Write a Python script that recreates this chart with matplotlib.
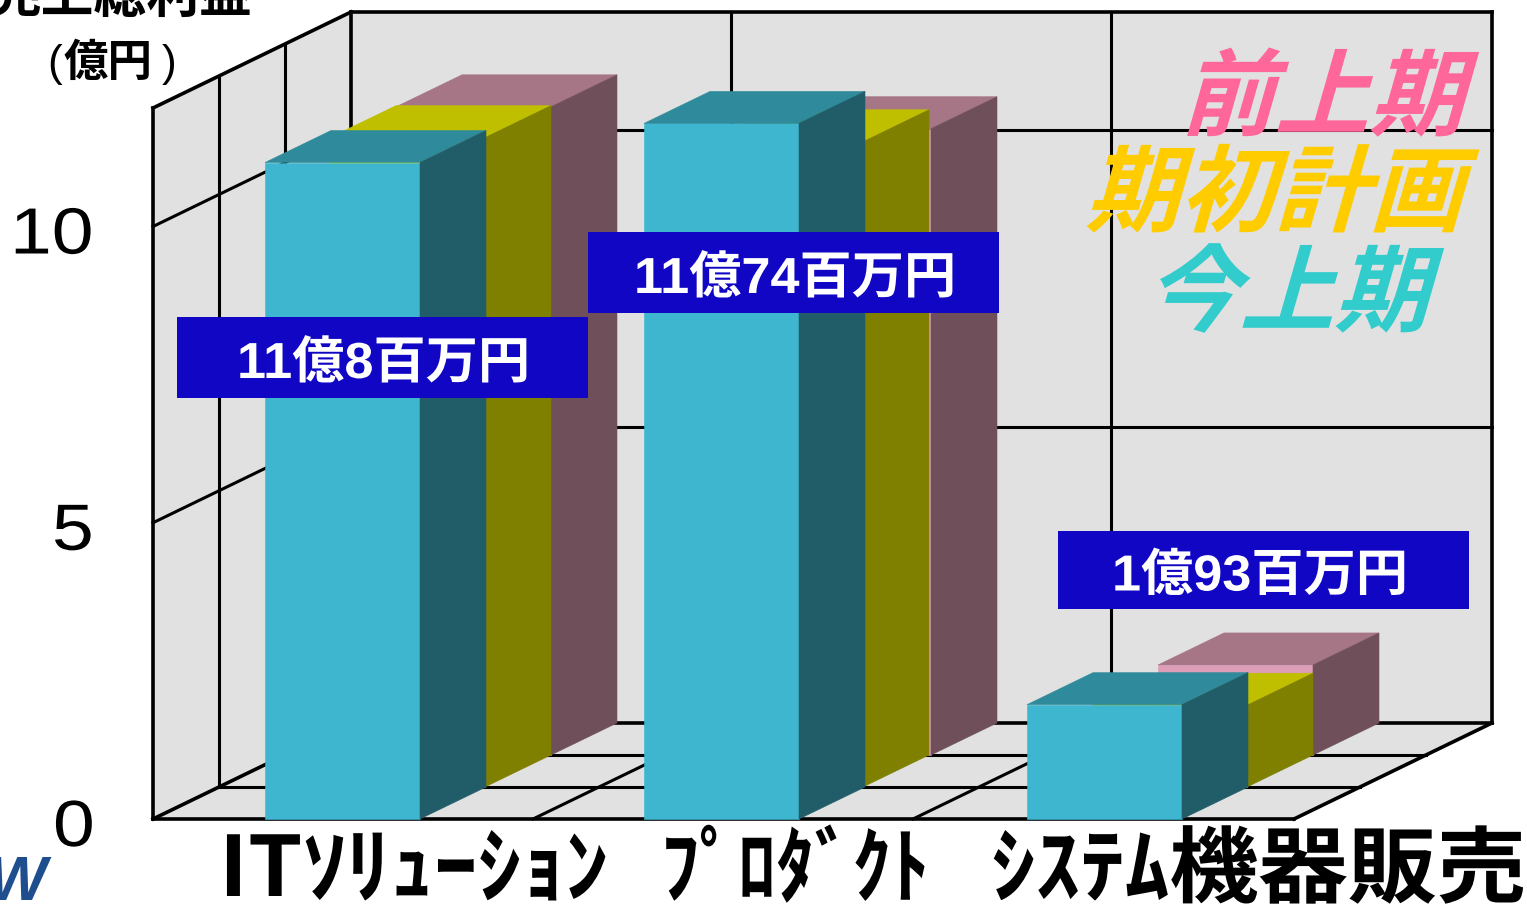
import matplotlib
matplotlib.use("Agg")
import matplotlib.pyplot as plt
from matplotlib.patches import Polygon, Rectangle
from matplotlib.patheffects import AbstractPathEffect
from matplotlib.transforms import Affine2D

# Values in oku yen, one list per period, back to front
categories = ["ITｿﾘｭｰｼｮﾝ", "ﾌﾟﾛﾀﾞｸﾄ", "ｼｽﾃﾑ機器販売"]
prev_half = [10.94, 10.57, 1.52]
plan = [10.96, 10.89, 1.38]
this_half = [11.08, 11.74, 1.93]
value_labels = ["11億8百万円", "11億74百万円", "1億93百万円"]
legend_names = ["前上期", "期初計画", "今上期"]
y_ticks = [0, 5, 10]
y_top = 12

# Layout of the fake 3D box, in pixels
FRONT_LEFT = 153
FLOOR_Y = 819
CAT_WIDTH = 380
PX_PER_UNIT = 59.25
DEPTH_DX = 66
DEPTH_DY = 32
BAR_WIDTH = 155
# front-left x of each bar before the depth shift, per category, back to front
BAR_X = [[264, 264, 265], [644, 642, 644], [1026, 1026, 1027]]
BOX_POS = [(177, 317, 411, 81), (588, 232, 411, 81), (1058, 531, 411, 78)]
BOX_TEXT_X = [237, 634, 1112]
TICK_X = [53, 52, 10]
LABEL_X = [219, 661, 991]
LABEL_SX = [1.05, 0.92, 1.07]

# front, top and side face per series
COLORS_BACK = ("#DD9DB7", "#A67586", "#6F4F5A")
COLORS_MID = ("#FFFF00", "#BFBF00", "#808000")
COLORS_FRONT = ("#3FB6CF", "#2F8B9B", "#215D68")

WALL = "#E1E1E1"
JP = ["Noto Sans CJK JP", "DejaVu Sans"]
LATIN_JP = ["Liberation Sans", "Noto Sans CJK JP"]


class Warp(AbstractPathEffect):
    # scale or slant the glyph outlines, text stays text
    def __init__(self, sx=1.0, sy=1.0, slant=0.0):
        self.matrix = Affine2D().scale(sx, sy).skew_deg(slant, 0)

    def draw_path(self, renderer, gc, tpath, affine, rgbFace=None):
        renderer.draw_path(gc, tpath, self.matrix + affine, rgbFace)


def project(x, value, depth):
    return (x + depth * DEPTH_DX, FLOOR_Y - depth * DEPTH_DY - value * PX_PER_UNIT)


def face(ax, points, color):
    ax.add_patch(Polygon(points, closed=True, facecolor=color, edgecolor=color, linewidth=0.4, zorder=1))


def line(ax, p1, p2, lw=2.2):
    ax.plot([p1[0], p2[0]], [p1[1], p2[1]], color="black", linewidth=lw, solid_capstyle="projecting", zorder=1)


def draw_bar(ax, x, value, depth, colors):
    front, top, side = colors
    x2 = x + BAR_WIDTH
    face(ax, [project(x, 0, depth), project(x2, 0, depth), project(x2, value, depth), project(x, value, depth)], front)
    face(ax, [project(x, value, depth), project(x2, value, depth), project(x2, value, depth + 1), project(x, value, depth + 1)], top)
    face(ax, [project(x2, 0, depth), project(x2, 0, depth + 1), project(x2, value, depth + 1), project(x2, value, depth)], side)


fig = plt.figure(figsize=(15.27, 9.05), dpi=100)
ax = fig.add_axes([0, 0, 1, 1])
ax.set_xlim(0, 1527)
ax.set_ylim(905, 0)
ax.axis("off")

right = FRONT_LEFT + CAT_WIDTH * 3 + 1

# Walls and floor
face(ax, [project(FRONT_LEFT, 0, 3), project(right, 0, 3), project(right, y_top, 3), project(FRONT_LEFT, y_top, 3)], WALL)
face(ax, [project(FRONT_LEFT, 0, 0), project(FRONT_LEFT, 0, 3), project(FRONT_LEFT, y_top, 3), project(FRONT_LEFT, y_top, 0)], WALL)
face(ax, [project(FRONT_LEFT, 0, 0), project(right, 0, 0), project(right, 0, 3), project(FRONT_LEFT, 0, 3)], WALL)

# Grid on the walls
for tick in y_ticks[1:]:
    line(ax, project(FRONT_LEFT, tick, 0), project(FRONT_LEFT, tick, 3))
    line(ax, project(FRONT_LEFT, tick, 3), project(right, tick, 3))
for depth in [1, 2]:
    line(ax, project(FRONT_LEFT, 0, depth), project(FRONT_LEFT, y_top, depth))
    line(ax, project(FRONT_LEFT, 0, depth), project(right, 0, depth))
for i in [1, 2]:
    x = FRONT_LEFT + i * CAT_WIDTH
    line(ax, project(x, 0, 0), project(x, 0, 3))
    line(ax, project(x, 0, 3), project(x, y_top, 3))

# Outline
line(ax, project(FRONT_LEFT, 0, 0), project(right, 0, 0), 2.6)
line(ax, project(right, 0, 0), project(right, 0, 3), 2.6)
line(ax, project(FRONT_LEFT, 0, 3), project(right, 0, 3), 2.6)
line(ax, project(right, 0, 3), project(right, y_top, 3), 2.6)
line(ax, project(FRONT_LEFT, y_top, 3), project(right, y_top, 3), 2.6)
line(ax, project(FRONT_LEFT, y_top, 0), project(FRONT_LEFT, y_top, 3), 2.6)
line(ax, project(FRONT_LEFT, 0, 0), project(FRONT_LEFT, y_top, 0), 2.6)
line(ax, project(FRONT_LEFT, 0, 0), project(FRONT_LEFT, 0, 3), 2.6)
line(ax, project(FRONT_LEFT, 0, 3), project(FRONT_LEFT, y_top, 3), 2.6)

# Bars, back series first so the front ones cover them
for i in range(len(categories)):
    draw_bar(ax, BAR_X[i][0], prev_half[i], 2, COLORS_BACK)
    draw_bar(ax, BAR_X[i][1], plan[i], 1, COLORS_MID)
    draw_bar(ax, BAR_X[i][2], this_half[i], 0, COLORS_FRONT)

# Blue value boxes
for label, (x, y, w, h), text_x in zip(value_labels, BOX_POS, BOX_TEXT_X):
    ax.add_patch(Rectangle((x, y), w, h, facecolor="#1006C4", edgecolor="none", zorder=1))
    ax.text(text_x, y + h / 2 + 7, label, color="white", fontsize=36.5, fontweight="bold",
            family=LATIN_JP, ha="left", va="center", path_effects=[Warp(sx=1.03)])

# Axis numbers
for tick, x in zip(y_ticks, TICK_X):
    ax.text(x, project(FRONT_LEFT, tick, 0)[1] + 27, str(tick), fontsize=47, family="Liberation Sans",
            ha="left", va="baseline", path_effects=[Warp(sx=1.15)])

# Category names
for name, x, sx in zip(categories, LABEL_X, LABEL_SX):
    ax.text(x, 896, name, fontsize=60, fontweight="bold", family=JP, ha="left", va="baseline", color="black",
            path_effects=[Warp(sx=sx)])

# Axis title, cut off at the top edge
ax.text(120, 13, "売上総利益", fontsize=38, fontweight="bold", family=JP, ha="center", va="baseline")
ax.text(108, 76, "億円", fontsize=32, fontweight="bold", family=JP, ha="center", va="baseline")
ax.text(47, 76, "(", fontsize=32, family="Liberation Sans", ha="left", va="baseline")
ax.text(162, 76, ")", fontsize=32, family="Liberation Sans", ha="left", va="baseline")

# Series names
legend_colors = ["#FF6699", "#FFCC00", "#33CCCC"]
legend_xy = [(1180, 128), (1085, 224), (1145, 324)]
for name, color, (x, y) in zip(legend_names, legend_colors, legend_xy):
    ax.text(x, y, name, color=color, fontsize=68, fontweight="bold", family=JP, ha="left", va="baseline",
            path_effects=[Warp(slant=16)])

# Corner of the logo
ax.text(46, 900, "W", color="#1F4E8F", fontsize=45, fontweight="bold", style="italic",
        family="Liberation Sans", ha="right", va="baseline")

fig.savefig("out.png", dpi=100)
